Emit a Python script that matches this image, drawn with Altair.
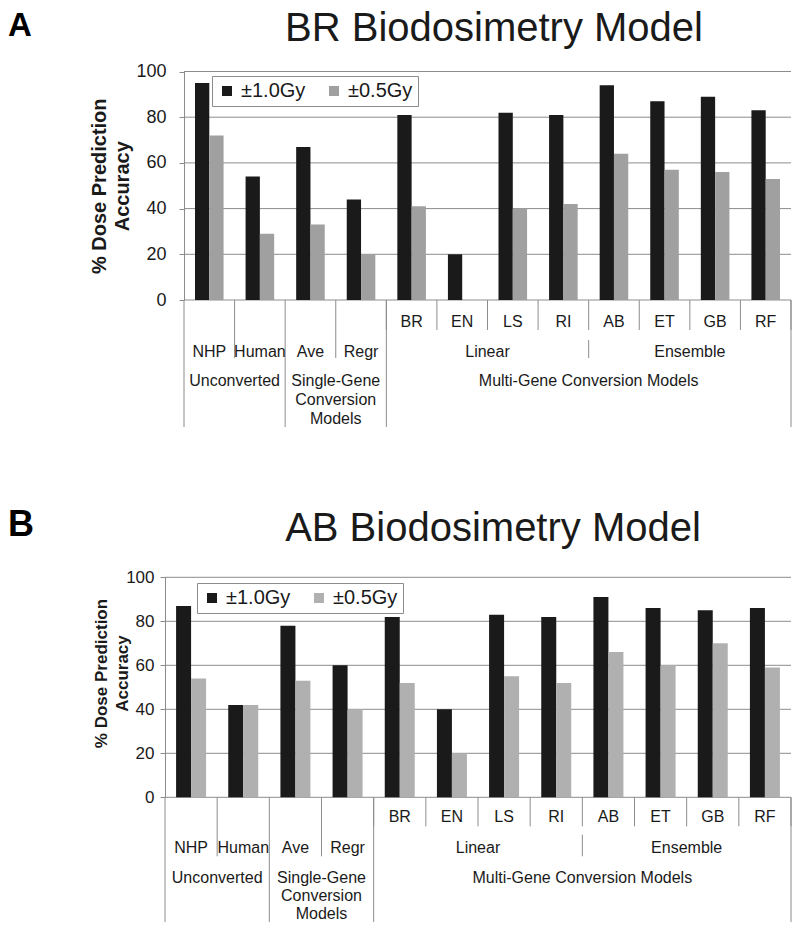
import altair as alt
import pandas as pd

# ---------------- data ----------------
categories = ["NHP", "Human", "Ave", "Regr", "BR", "EN", "LS", "RI", "AB", "ET", "GB", "RF"]
level1 = ["", "", "", "", "BR", "EN", "LS", "RI", "AB", "ET", "GB", "RF"]
level2 = ["NHP", "Human", "Ave", "Regr", "Linear", "Linear", "Linear", "Linear",
          "Ensemble", "Ensemble", "Ensemble", "Ensemble"]
level3 = ["Unconverted", "Unconverted",
          "Single-Gene\nConversion\nModels", "Single-Gene\nConversion\nModels"] + \
         ["Multi-Gene Conversion Models"] * 8
series = ["±1.0Gy", "±0.5Gy"]

br_1gy = [95, 54, 67, 44, 81, 20, 82, 81, 94, 87, 89, 83]
br_05gy = [72, 29, 33, 20, 41, 0, 40, 42, 64, 57, 56, 53]
ab_1gy = [87, 42, 78, 60, 82, 40, 83, 82, 91, 86, 85, 86]
ab_05gy = [54, 42, 53, 40, 52, 20, 55, 52, 66, 60, 70, 59]

panel_letters = ["A", "B"]
panel_titles = ["BR Biodosimetry Model", "AB Biodosimetry Model"]
y_title = ["% Dose Prediction", "Accuracy"]
y_ticks = [0, 20, 40, 60, 80, 100]

# ---------------- style (pixel layout of the whole canvas) ----------------
FONT = "Liberation Sans"
TXT = "#1a1a1a"
GRID = "#8c8c8c"
BLACK = "#1a1a1a"
CAT_SIZE = 16
W, H = 784, 914

STYLE = {
    "A": dict(x0=176, x1=783, y0=292, y1=63.5, gray="#a0a0a0", pad_inner=0.435,
              letter_y=27.5, letter_size=33, title_x=486, title_y=33,
              ytitle_size=20, ytitle_lh=23, ytitle_pad=3, ytitle_y=None,
              ylabel_size=18, ylabel_pad=13,
              legend_x=204, legend_y=68,
              r1_label=314, r1_bot=322, r2_top=332, r2_label=344,
              r2_bot=350, r3_top=365, r3_lh=19, bottom=419),
    "B": dict(x0=157, x1=783, y0=789.3, y1=569.3, gray="#b0b0b0", pad_inner=0.425,
              letter_y=528, letter_size=36, title_x=485, title_y=533,
              ytitle_size=17, ytitle_lh=21, ytitle_pad=-6, ytitle_y=665,
              ylabel_size=17, ylabel_pad=6,
              legend_x=189, legend_y=575,
              r1_label=809, r1_bot=818.3, r2_top=826.7, r2_label=840,
              r2_bot=848.3, r3_top=862, r3_lh=18, bottom=914),
}


def runs(labels):
    out = []
    start = 0
    for i in range(1, len(labels) + 1):
        if i == len(labels) or labels[i] != labels[start]:
            out.append((labels[start], start, i))
            start = i
    return out


n = len(categories)


def panel_layers(letter, title, v1, v05, st):
    df = pd.DataFrame({
        "cat": categories * 2,
        "series": [series[0]] * n + [series[1]] * n,
        "value": v1 + v05,
    })
    yscale = dict(domain=[0, 100], range=[st["y0"], st["y1"]], nice=False, zero=True)
    posscale = alt.Scale(domain=[0, n], range=[st["x0"], st["x1"]], nice=False, zero=False)

    axis_kw = dict(values=y_ticks, grid=False, domainColor=GRID, orient="left",
                   offset=-st["x0"], tickColor=GRID, tickSize=5,
                   labelFontSize=st["ylabel_size"], labelColor=TXT,
                   labelPadding=st["ylabel_pad"], labelFont=FONT,
                   title=y_title, titleFontSize=st["ytitle_size"], titleFont=FONT,
                   titleFontWeight="bold", titleColor=TXT,
                   titlePadding=st["ytitle_pad"], titleLineHeight=st["ytitle_lh"])
    if st["ytitle_y"] is not None:
        axis_kw["titleY"] = st["ytitle_y"]

    grid = alt.Chart(pd.DataFrame({"t": y_ticks})).mark_rule(
        color=GRID, strokeWidth=1).encode(
        y=alt.Y("t:Q", scale=alt.Scale(**yscale), axis=None),
        x=alt.value(st["x0"]), x2=alt.value(st["x1"]))

    bars = alt.Chart(df).mark_bar().encode(
        x=alt.X("cat:N", sort=categories, axis=None,
                scale=alt.Scale(range=[st["x0"], st["x1"]],
                                paddingInner=st["pad_inner"],
                                paddingOuter=st["pad_inner"] / 2)),
        xOffset=alt.XOffset("series:N", sort=series,
                            scale=alt.Scale(paddingInner=0, paddingOuter=0)),
        y=alt.Y("value:Q", scale=alt.Scale(**yscale), axis=alt.Axis(**axis_kw)),
        color=alt.Color("series:N", sort=series,
                        scale=alt.Scale(domain=series, range=[BLACK, st["gray"]]),
                        legend=alt.Legend(orient="none", legendX=st["legend_x"],
                                          legendY=st["legend_y"], direction="horizontal",
                                          title=None, symbolType="square", symbolSize=100,
                                          symbolStrokeWidth=0, labelFontSize=20,
                                          labelFont=FONT, labelColor=TXT, padding=5,
                                          strokeColor=GRID, fillColor="white",
                                          columnPadding=18, labelOffset=4)),
    )

    # hierarchical category axis
    r1 = [(l, s, e) for (l, s, e) in runs(level1) if l]
    r2 = runs(level2)
    r3 = runs(level3)

    def lab(r):
        return pd.DataFrame({"t": [l for l, s, e in r], "mid": [(s + e) / 2 for l, s, e in r]})

    full_b = sorted(set([s for l, s, e in r3] + [n]))
    b1 = sorted(set([s for l, s, e in r1] + [e for l, s, e in r1]))
    b2_all = [s for l, s, e in r2 if s not in full_b]
    b2_cont = [b for b in b2_all if level1[b - 1] == "" and level1[b] == ""]
    b2_seg = [b for b in b2_all if b not in b2_cont]

    def rules(bounds, ya, yb):
        return alt.Chart(pd.DataFrame({"b": bounds})).mark_rule(
            color=GRID, strokeWidth=1).encode(
            x=alt.X("b:Q", scale=posscale, axis=None),
            y=alt.value(ya), y2=alt.value(yb))

    def texts(d, y, baseline="middle"):
        return alt.Chart(d).mark_text(font=FONT, fontSize=CAT_SIZE, color=TXT,
                                      baseline=baseline, align="center",
                                      lineBreak="\n", lineHeight=st["r3_lh"]).encode(
            x=alt.X("mid:Q", scale=posscale, axis=None),
            y=alt.value(y), text="t:N")

    base = st["y0"]
    return [
        grid,
        bars,
        rules(full_b, base, st["bottom"]),
        rules(b1, base, st["r1_bot"]),
        rules(b2_cont, base, st["r2_bot"]),
        rules(b2_seg, st["r2_top"], st["r2_bot"]),
        texts(lab(r1), st["r1_label"]),
        texts(lab(r2), st["r2_label"]),
        texts(lab(r3), st["r3_top"], baseline="top"),
        alt.Chart(pd.DataFrame({"t": [letter]})).mark_text(
            font=FONT, fontSize=st["letter_size"], fontWeight="bold", color="#000000",
            align="left", baseline="alphabetic").encode(
            x=alt.value(0), y=alt.value(st["letter_y"]), text="t:N"),
        alt.Chart(pd.DataFrame({"t": [title]})).mark_text(
            font=FONT, fontSize=40, color=TXT,
            align="center", baseline="alphabetic").encode(
            x=alt.value(st["title_x"]), y=alt.value(st["title_y"]), text="t:N"),
    ]


layers = (panel_layers(panel_letters[0], panel_titles[0], br_1gy, br_05gy, STYLE["A"]) +
          panel_layers(panel_letters[1], panel_titles[1], ab_1gy, ab_05gy, STYLE["B"]))

chart = alt.layer(*layers).resolve_scale(
    x="independent", y="independent", color="independent", xOffset="independent"
).resolve_axis(y="independent").properties(
    width=W, height=H, padding=0,
    autosize=alt.AutoSizeParams(type="none"),
).configure(font=FONT).configure_view(stroke=None)

chart.save("out.html", embed_options={"renderer": "svg", "actions": False})
